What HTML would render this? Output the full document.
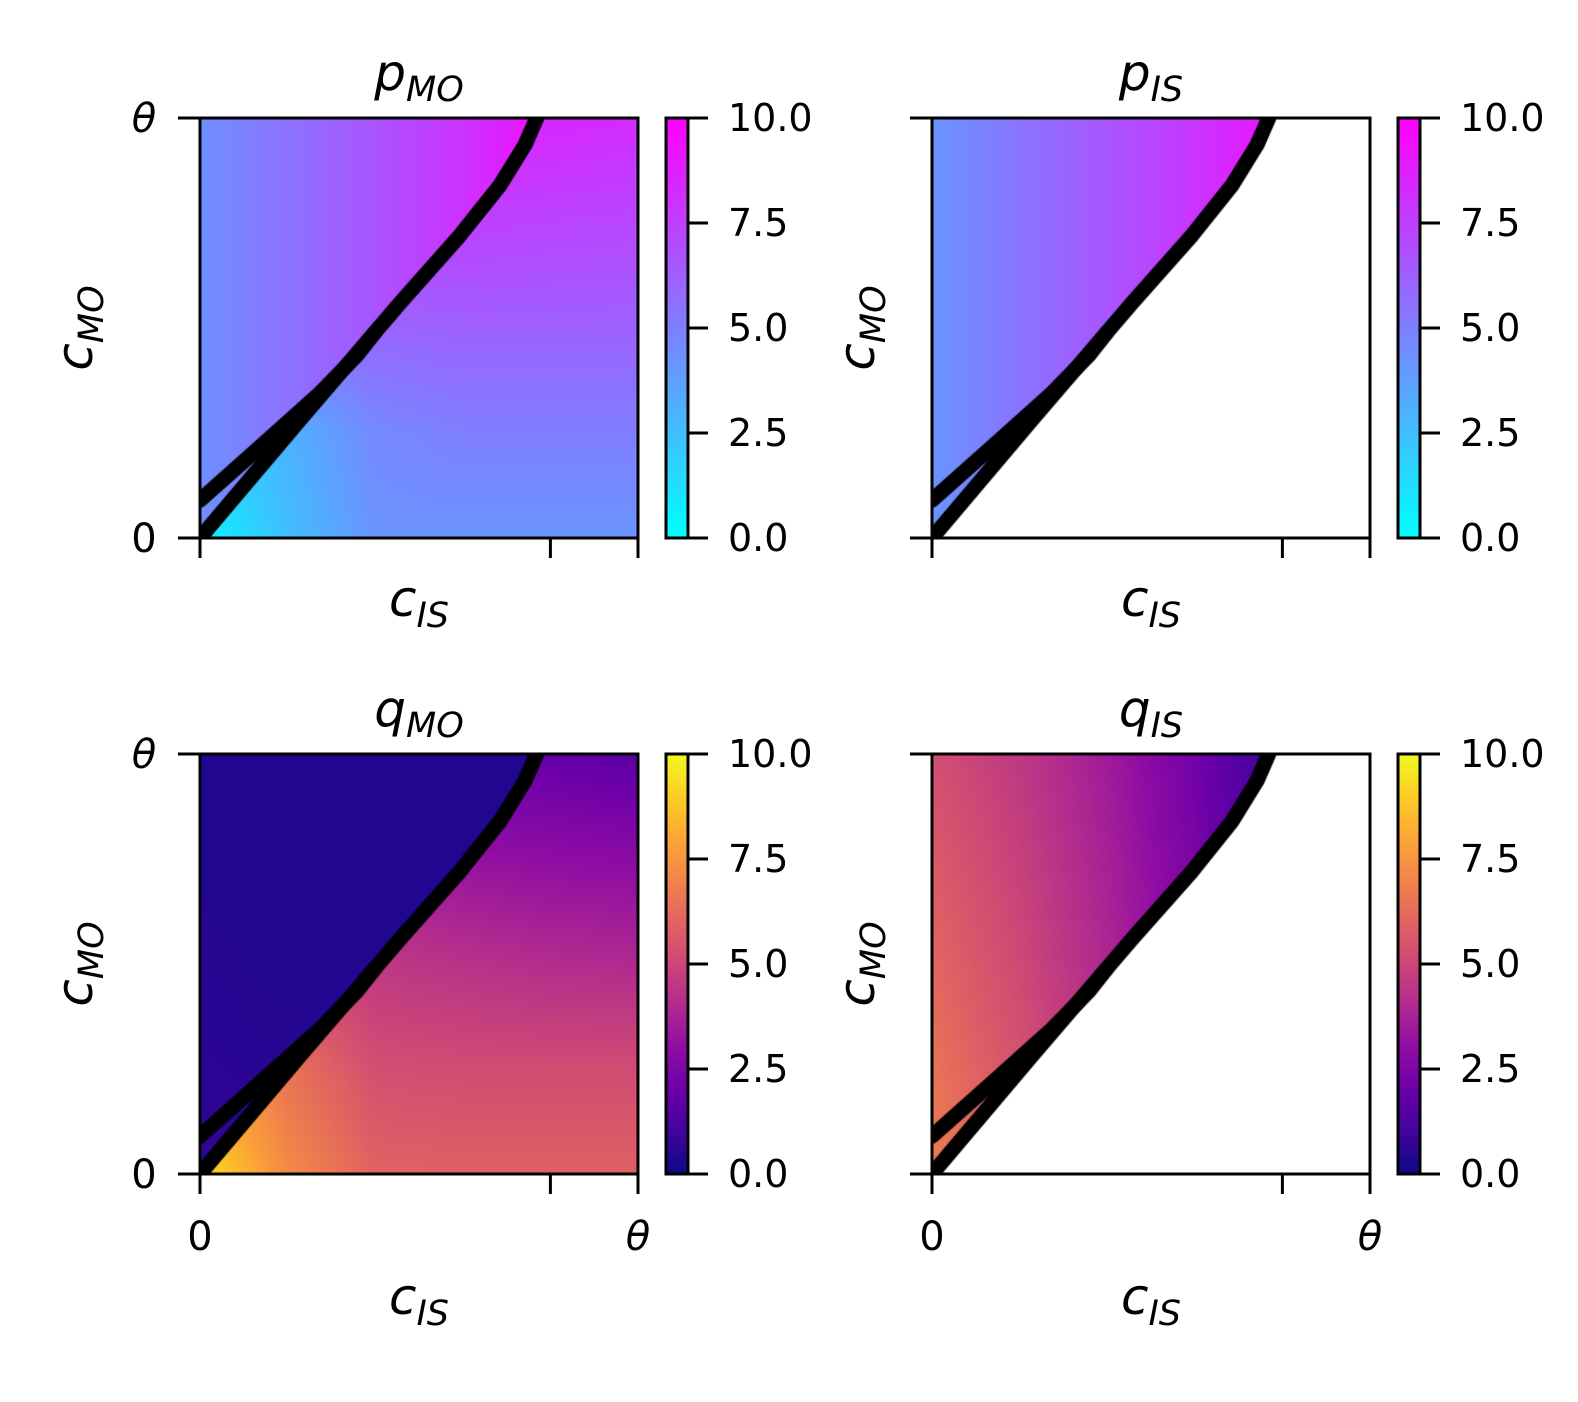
<!DOCTYPE html>
<html><head><meta charset="utf-8"><style>
html,body{margin:0;padding:0;background:#fff;}
#wrap{position:relative;width:1578px;height:1402px;overflow:hidden;}
canvas{position:absolute;}
svg{position:absolute;left:0;top:0;}
text{font-family:"DejaVu Sans","Liberation Sans",sans-serif;fill:#000;}
</style></head><body>
<div id="wrap">
<canvas id="c0" width="438" height="420" style="left:200px;top:118px"></canvas>
<canvas id="c1" width="438" height="420" style="left:932px;top:118px"></canvas>
<canvas id="c2" width="438" height="420" style="left:200px;top:754px"></canvas>
<canvas id="c3" width="438" height="420" style="left:932px;top:754px"></canvas>
<svg id="ov" width="1578" height="1402"></svg>
</div>
<script>
// grid coordinates (data space 0..1)
const gridX = [0, 0.2, 0.4, 0.6, 0.8, 1];
const gridY = [0, 0.25, 0.5, 0.75, 1];
// boundary curves (data coords)
const lowerCurveX = [0, 0.228, 0.457, 0.594, 0.685, 0.742, 0.769];
const lowerCurveY = [0, 0.281, 0.560, 0.721, 0.840, 0.936, 1.0];
const upperCurveX = [0, 0.137, 0.274, 0.360, 0.400];
const upperCurveY = [0.090, 0.217, 0.345, 0.437, 0.490];
// panel values: left region (above curve) and right region (below curve); NaN = blank
const pMoLeft = [[4.3,5.5,6.7,8.0,9.5,9.8],[4.3,5.5,6.7,8.0,9.5,9.8],[4.3,5.5,6.7,8.0,9.5,9.8],[4.3,5.5,6.7,8.0,9.5,9.8],[4.3,5.5,6.7,8.0,9.5,9.8]];
const pMoRight = [[0.3,2.5,4.2,4.2,4.2,4.2],[2.0,3.0,4.6,5.0,5.0,5.0],[4.5,5.5,6.0,6.2,6.2,6.2],[6.5,7.0,7.3,7.5,7.3,7.2],[8.5,8.5,8.5,8.6,8.5,8.3]];
const pIsLeft = [[4.2,5.4,6.6,7.9,9.4,9.8],[4.2,5.4,6.6,7.9,9.4,9.8],[4.2,5.4,6.6,7.9,9.4,9.8],[4.2,5.4,6.6,7.9,9.4,9.8],[4.2,5.4,6.6,7.9,9.4,9.8]];
const pIsRight = [[NaN,NaN,NaN,NaN,NaN,NaN],[NaN,NaN,NaN,NaN,NaN,NaN],[NaN,NaN,NaN,NaN,NaN,NaN],[NaN,NaN,NaN,NaN,NaN,NaN],[NaN,NaN,NaN,NaN,NaN,NaN]];
const qMoLeft = [[0.7,0.6,0.5,0.4,0.4,0.4],[0.6,0.5,0.5,0.4,0.4,0.4],[0.5,0.4,0.4,0.4,0.4,0.4],[0.4,0.4,0.4,0.4,0.4,0.4],[0.4,0.4,0.4,0.4,0.4,0.4]];
const qMoRight = [[9.5,7.2,6.0,5.9,5.9,5.9],[8.0,6.5,5.3,5.2,5.2,5.2],[6.0,5.0,4.5,4.3,4.1,4.0],[4.0,3.6,3.4,3.2,3.0,2.9],[2.5,2.3,2.1,2.0,1.9,1.6]];
const qIsLeft = [[6.8,5.6,4.3,3.0,1.5,1.0],[6.5,5.4,4.1,2.8,1.3,0.9],[6.1,5.1,3.9,2.6,1.1,0.8],[5.7,4.8,3.7,2.4,0.9,0.6],[5.3,4.5,3.5,2.2,0.8,0.5]];
const qIsRight = pIsRight;
const cbTicks = [0, 2.5, 5, 7.5, 10];
const cbTickLabels = ["0.0","2.5","5.0","7.5","10.0"];

const W=438,H=420;
function sx(x){return x*W;}
function sy(y){return H-y*H;}
function lerp(a,b,t){return a+(b-a)*t;}
function interp1(xs,ys,v){
  if(v<=xs[0]) return ys[0];
  for(let i=1;i<xs.length;i++){ if(v<=xs[i]){const t=(v-xs[i-1])/(xs[i]-xs[i-1]);return lerp(ys[i-1],ys[i],t);} }
  return ys[ys.length-1];
}
function bilinear(g,x,y){
  let i=0;while(i<gridX.length-2&&x>gridX[i+1])i++;
  let j=0;while(j<gridY.length-2&&y>gridY[j+1])j++;
  const tx=(x-gridX[i])/(gridX[i+1]-gridX[i]), ty=(y-gridY[j])/(gridY[j+1]-gridY[j]);
  const a=lerp(g[j][i],g[j][i+1],tx), b=lerp(g[j+1][i],g[j+1][i+1],tx);
  return lerp(a,b,ty);
}
function cool(v){const t=Math.max(0,Math.min(1,v/10));return [255*t,255*(1-t),255];}
const plasmaStops=[[13,8,135],[65,4,157],[106,0,168],[143,13,164],[177,42,144],[204,71,120],[225,100,98],[242,132,75],[252,166,54],[252,206,37],[240,249,33]];
function plasma(v){const t=Math.max(0,Math.min(1,v/10))*10;const i=Math.min(9,Math.floor(t));const f=t-i;const a=plasmaStops[i],b=plasmaStops[i+1];return [lerp(a[0],b[0],f),lerp(a[1],b[1],f),lerp(a[2],b[2],f)];}
function rgb(c){return `rgb(${c[0]|0},${c[1]|0},${c[2]|0})`;}

const panels=[
 {id:'c0',L:pMoLeft,R:pMoRight,cm:cool,ox:200,oy:118,t:'p',name:'p-mo',sub:'MO',xl:false,yl:true},
 {id:'c1',L:pIsLeft,R:pIsRight,cm:cool,ox:932,oy:118,t:'p',name:'p-is',sub:'IS',xl:false,yl:false},
 {id:'c2',L:qMoLeft,R:qMoRight,cm:plasma,ox:200,oy:754,t:'q',name:'q-mo',sub:'MO',xl:true,yl:true},
 {id:'c3',L:qIsLeft,R:qIsRight,cm:plasma,ox:932,oy:754,t:'q',name:'q-is',sub:'IS',xl:true,yl:false},
];
const cell=3;
function linePath(ctx,cx,cy){
  ctx.beginPath();
  cx.forEach((x,i)=>{const X=sx(x),Y=sy(cy[i]);if(i==0)ctx.moveTo(X,Y);else ctx.lineTo(X,Y);});
  ctx.stroke();
}
panels.forEach(p=>{
  const ctx=document.getElementById(p.id).getContext('2d');
  for(let py=0;py<H;py+=cell){
    const y=1-(py+cell/2)/H;
    const bx=interp1(lowerCurveY,lowerCurveX,y);
    for(let px=0;px<W;px+=cell){
      const x=(px+cell/2)/W;
      const v= x<bx ? bilinear(p.L,x,y) : bilinear(p.R,x,y);
      if(isNaN(v)) continue;
      ctx.fillStyle=rgb(p.cm(v));
      ctx.fillRect(px,py,cell,cell);
    }
  }
  ctx.strokeStyle='#000';ctx.lineWidth=15;ctx.lineCap='round';ctx.lineJoin='round';
  linePath(ctx,lowerCurveX,lowerCurveY);
  linePath(ctx,upperCurveX,upperCurveY);
});

const NS='http://www.w3.org/2000/svg';
const ov=document.getElementById('ov');
function mk(tag,attrs,parent){const e=document.createElementNS(NS,tag);for(const k in attrs)e.setAttribute(k,attrs[k]);(parent||ov).appendChild(e);return e;}
function txt(x,y,s,size,anchor,parent,italic){const t=mk('text',{x:x,y:y,'font-size':size,'text-anchor':anchor||'start'},parent);if(italic)t.setAttribute('font-style','italic');t.textContent=s;return t;}
function subLabel(x,y,base,sub,size,parent,rot){
  const t=mk('text',{x:x,y:y,'font-size':size,'text-anchor':'middle','font-style':'italic'},parent);
  if(rot)t.setAttribute('transform',`rotate(-90 ${x} ${y})`);
  const a=mk('tspan',{},t);a.textContent=base;
  const b=mk('tspan',{'font-size':size*0.7,dy:size*0.22},t);b.textContent=sub;
  return t;
}
panels.forEach(p=>{
  const g=mk('g',{});
  
  
  const ax=mk('rect',{x:p.ox,y:p.oy,width:W,height:H,fill:'none',stroke:'#000','stroke-width':3},g);
  
  
  [[0,'0'],[1,'θ']].forEach(([v,l])=>{
    const Y=p.oy+sy(v);
    mk('line',{x1:p.ox-22,x2:p.ox,y1:Y,y2:Y,stroke:'#000','stroke-width':3},g);
    if(p.yl){
      const t=txt(p.ox-56,Y+14,l,40,'middle',g,l==='θ');
      
      
    }
  });
  [0,0.8,1].forEach(v=>{
    const X=p.ox+sx(v);
    mk('line',{x1:X,x2:X,y1:p.oy+H,y2:p.oy+H+20,stroke:'#000','stroke-width':3},g);
  });
  if(p.xl){
    [[0,'0'],[1,'θ']].forEach(([v,l])=>{
      const t=txt(p.ox+sx(v),p.oy+H+76,l,40,'middle',g,l==='θ');
      
      
    });
  }
  const tt=subLabel(p.ox+W/2,p.oy-28,p.t,p.sub,50,g,false);
  
  
  const xt=subLabel(p.ox+W/2,p.oy+H+(p.xl?140:78),'c','IS',50,g,false);
  
  
  const yt=subLabel(p.ox-(p.yl?108:58),p.oy+H/2,'c','MO',50,g,true);
  
  
  const cbx=p.ox+466, cbw=22;
  const gid='grad-'+p.name;
  const defs=mk('defs',{},g);
  const lg=mk('linearGradient',{id:gid,x1:0,y1:1,x2:0,y2:0},defs);
  for(let i=0;i<=10;i++){const c=p.cm(i);mk('stop',{offset:i/10,'stop-color':rgb(c)},lg);}
  const cb=mk('rect',{x:cbx,y:p.oy,width:cbw,height:H,fill:`url(#${gid})`,stroke:'#000','stroke-width':3},g);
  
  
  cbTicks.forEach((v,i)=>{
    const Y=p.oy+H-v/10*H;
    mk('line',{x1:cbx+cbw,x2:cbx+cbw+20,y1:Y,y2:Y,stroke:'#000','stroke-width':3},g);
    const t=txt(cbx+cbw+40,Y+13,cbTickLabels[i],38,'start',g,false);
    
    
  });
});
</script>
</body></html>
